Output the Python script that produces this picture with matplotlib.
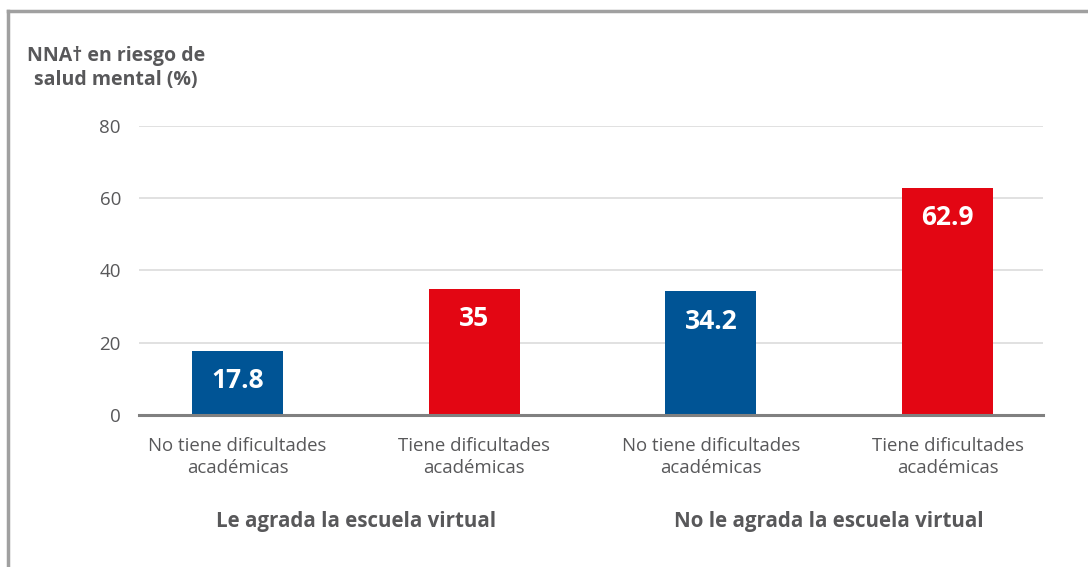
import matplotlib
matplotlib.use('Agg')
import matplotlib.pyplot as plt
from matplotlib.lines import Line2D

plt.rcParams['font.family'] = ['Open Sans', 'DejaVu Sans']

categorias = ["No tiene dificultades\nacadémicas", "Tiene dificultades\nacadémicas",
              "No tiene dificultades\nacadémicas", "Tiene dificultades\nacadémicas"]
valores = [17.8, 35, 34.2, 62.9]
etiquetas = ["17.8", "35", "34.2", "62.9"]
colores = ["#005495", "#e30613", "#005495", "#e30613"]
grupos = ["Le agrada la escuela virtual", "No le agrada la escuela virtual"]
yticks = [0, 20, 40, 60, 80]

gris = "#58585a"

fig = plt.figure(figsize=(10.88, 5.67), dpi=100)
ax = fig.add_axes([0.1278, 0.2681, 0.9586 - 0.1278, 0.7778 - 0.2681])

x = list(range(len(valores)))
ax.bar(x, valores, width=0.385, color=colores, zorder=3)
for xi, v, t in zip(x, valores, etiquetas):
    ax.annotate(t, (xi, v), xytext=(0, -21.5), textcoords='offset points',
                ha='center', va='center', color='white', fontsize=19,
                fontweight='bold', zorder=4)

ax.set_xlim(-0.416, 3.403)
ax.set_ylim(0, 80)
ax.set_yticks(yticks)
ax.set_yticklabels([str(t) for t in yticks], fontsize=13.5, color=gris)
ax.tick_params(axis='y', length=0, pad=13)
ax.set_xticks(x)
ax.set_xticklabels(categorias, fontsize=13.4, color=gris, linespacing=1.3)
ax.tick_params(axis='x', length=0, pad=16)
ax.yaxis.grid(True, color='#dcdcdc', linewidth=1.2, zorder=0)
ax.set_axisbelow(True)
for s in ['top', 'right', 'left']:
    ax.spines[s].set_visible(False)
ax.spines['bottom'].set_color('#808080')
ax.spines['bottom'].set_linewidth(2.2)
ax.spines['bottom'].set_zorder(5)

# grupos
for i, g in enumerate(grupos):
    ax.annotate(g, ((2 * i + 2 * i + 1) / 2, 0), xycoords=('data', 'axes fraction'),
                xytext=(0, -77), textcoords='offset points', ha='center', va='center',
                fontsize=14.8, fontweight='bold', color=gris)

fig.text(116 / 1088, 1 - 68 / 567, "NNA† en riesgo de\nsalud mental (%)", ha='center',
         va='center', fontsize=14, fontweight='bold', color=gris, linespacing=1.3)

# marco
fig.add_artist(Line2D([8 / 1088, 8 / 1088], [0, 1 - 11 / 567], color='#a0a0a0', linewidth=2.5))
fig.add_artist(Line2D([8 / 1088, 1], [1 - 11 / 567, 1 - 11 / 567], color='#a0a0a0', linewidth=2.5))

fig.savefig('out.png', dpi=100)
